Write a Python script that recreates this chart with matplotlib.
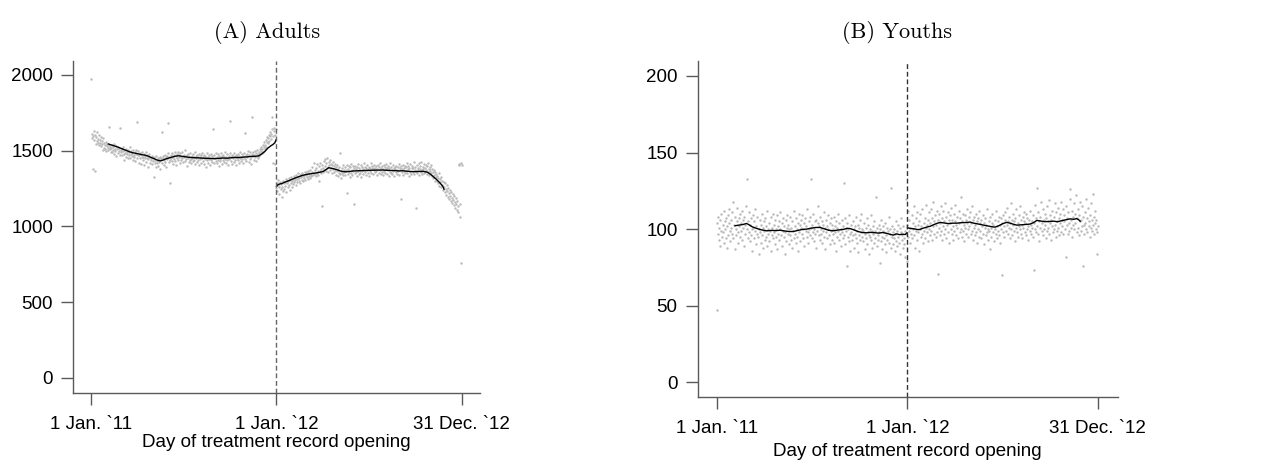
import numpy as np
import matplotlib
matplotlib.use("Agg")
import matplotlib.pyplot as plt

plt.rcParams['font.family'] = ['Liberation Sans', 'DejaVu Sans']

# day 0 = 1 Jan 2011, day 365 = 1 Jan 2012 (cutoff), day 730 = 31 Dec 2012
cutoff_day = 365
tick_days = [0, 365, 730]
tick_labels = ['1 Jan. `11', '1 Jan. `12', '31 Dec. `12']
xlabel = 'Day of treatment record opening'

# ---- (A) Adults: daily counts ----
adults_before = [
    1970, 1585, 1612, 1598, 1380, 1627, 1570, 1368, 1603, 1589, 1541, 1620, 1566, 1578, 1552, 1601, 1534, 1573, 1547, 1590,
    1528, 1562, 1541, 1505, 1583, 1519, 1550, 1537, 1512, 1560, 1498, 1531, 1546, 1520, 1503, 1655, 1539, 1511, 1527, 1494,
    1518, 1536, 1489, 1507, 1525, 1480, 1541, 1512, 1497, 1530, 1463, 1508, 1521, 1486, 1499, 1515, 1473, 1652, 1502, 1490,
    1511, 1468, 1495, 1523, 1480, 1437, 1502, 1485, 1460, 1512, 1476, 1493, 1449, 1505, 1470, 1488, 1521, 1452, 1480, 1497,
    1463, 1485, 1439, 1506, 1472, 1458, 1490, 1431, 1475, 1503, 1687, 1448, 1468, 1495, 1421, 1470, 1486, 1452, 1410, 1479,
    1460, 1492, 1437, 1455, 1476, 1402, 1463, 1449, 1488, 1425, 1451, 1470, 1395, 1443, 1461, 1480, 1418, 1452, 1437, 1466,
    1409, 1448, 1430, 1328, 1457, 1421, 1440, 1389, 1462, 1433, 1415, 1451, 1398, 1442, 1425, 1460, 1381, 1437, 1454, 1626,
    1419, 1448, 1463, 1402, 1437, 1470, 1428, 1455, 1391, 1466, 1445, 1481, 1680, 1423, 1459, 1440, 1289, 1472, 1450, 1433,
    1486, 1458, 1412, 1469, 1447, 1492, 1430, 1463, 1408, 1476, 1452, 1489, 1436, 1471, 1455, 1418, 1482, 1460, 1441, 1493,
    1449, 1427, 1470, 1456, 1501, 1431, 1462, 1445, 1398, 1474, 1453, 1480, 1422, 1459, 1437, 1487, 1446, 1415, 1466, 1451,
    1478, 1430, 1457, 1441, 1493, 1409, 1463, 1448, 1472, 1425, 1455, 1436, 1480, 1402, 1461, 1444, 1469, 1419, 1452, 1487,
    1433, 1458, 1411, 1474, 1446, 1465, 1390, 1452, 1437, 1483, 1421, 1460, 1445, 1471, 1406, 1454, 1439, 1478, 1426, 1462,
    1448, 1643, 1415, 1469, 1452, 1434, 1487, 1420, 1458, 1441, 1476, 1398, 1463, 1447, 1429, 1482, 1455, 1413, 1466, 1440,
    1472, 1427, 1459, 1444, 1490, 1418, 1461, 1435, 1478, 1451, 1403, 1467, 1446, 1483, 1698, 1432, 1457, 1474, 1410, 1463,
    1448, 1485, 1426, 1459, 1441, 1471, 1405, 1462, 1453, 1436, 1480, 1418, 1467, 1449, 1494, 1430, 1458, 1475, 1442, 1465,
    1420, 1461, 1486, 1447, 1619, 1468, 1434, 1479, 1455, 1497, 1428, 1470, 1446, 1488, 1459, 1412, 1476, 1725, 1463, 1491,
    1440, 1472, 1458, 1499, 1431, 1484, 1467, 1505, 1450, 1478, 1493, 1462, 1511, 1476, 1497, 1526, 1482, 1508, 1540, 1493,
    1521, 1556, 1509, 1538, 1572, 1524, 1560, 1591, 1547, 1583, 1606, 1562, 1598, 1620, 1577, 1612, 1725, 1640, 1416, 1595,
    1628, 1652, 1410, 1605, 1640,
]
adults_after = [
    1252, 1288, 1231, 1270, 1305, 1215, 1262, 1290, 1244, 1278, 1196, 1259, 1301, 1236, 1283,
    1249, 1292, 1268, 1310, 1226, 1285, 1303, 1257, 1296, 1318, 1274, 1239, 1307, 1289, 1325, 1262, 1298, 1315, 1281, 1334,
    1293, 1320, 1305, 1271, 1338, 1312, 1290, 1327, 1349, 1302, 1318, 1336, 1283, 1325, 1344, 1309, 1351, 1297, 1330, 1342,
    1318, 1356, 1305, 1339, 1362, 1326, 1347, 1310, 1368, 1335, 1353, 1321, 1374, 1342, 1331, 1360, 1395, 1338, 1352, 1415,
    1346, 1372, 1329, 1388, 1355, 1412, 1340, 1368, 1301, 1397, 1363, 1420, 1377, 1350, 1405, 1137, 1386, 1359, 1431, 1372,
    1398, 1445, 1365, 1417, 1383, 1452, 1391, 1360, 1428, 1402, 1375, 1436, 1388, 1412, 1349, 1405, 1380, 1423, 1357, 1396,
    1371, 1410, 1342, 1389, 1365, 1402, 1330, 1378, 1355, 1395, 1348, 1482, 1367, 1320, 1386, 1351, 1404, 1339, 1373, 1358,
    1392, 1337, 1369, 1405, 1218, 1381, 1346, 1398, 1362, 1327, 1389, 1353, 1410, 1371, 1340, 1396, 1365, 1145, 1382, 1349,
    1401, 1360, 1379, 1334, 1393, 1367, 1412, 1345, 1386, 1372, 1355, 1404, 1328, 1390, 1366, 1381, 1347, 1419, 1374, 1359,
    1395, 1338, 1384, 1369, 1407, 1352, 1376, 1391, 1331, 1388, 1363, 1415, 1350, 1379, 1397, 1344, 1386, 1370, 1408, 1356,
    1383, 1367, 1399, 1336, 1378, 1402, 1355, 1390, 1373, 1421, 1348, 1385, 1361, 1397, 1340, 1380, 1406, 1364, 1392, 1351,
    1376, 1410, 1345, 1388, 1369, 1399, 1332, 1383, 1362, 1416, 1354, 1391, 1375, 1343, 1403, 1366, 1387, 1330, 1380, 1395,
    1358, 1401, 1372, 1347, 1389, 1365, 1412, 1339, 1384, 1370, 1181, 1396, 1356, 1378, 1404, 1341, 1386, 1363, 1398, 1349,
    1391, 1368, 1420, 1352, 1377, 1401, 1335, 1388, 1362, 1414, 1347, 1382, 1397, 1357, 1385, 1426, 1343, 1374, 1393, 1119,
    1366, 1408, 1351, 1387, 1372, 1417, 1338, 1381, 1399, 1359, 1423, 1370, 1345, 1392, 1376, 1411, 1354, 1385, 1362, 1402,
    1373, 1347, 1396, 1360, 1415, 1379, 1338, 1390, 1368, 1352, 1404, 1332, 1381, 1357, 1320, 1373, 1340, 1298, 1362, 1325,
    1346, 1301, 1334, 1283, 1318, 1352, 1269, 1310, 1290, 1325, 1258, 1301, 1276, 1240, 1293, 1262, 1227, 1284, 1248, 1210,
    1271, 1232, 1196, 1255, 1218, 1178, 1240, 1203, 1168, 1226, 1190, 1152, 1213, 1176, 1139, 1198, 1161, 1124, 1186, 1147,
    1110, 1166, 1093, 1135, 1412, 1405, 1150, 1063, 1418, 760, 1408,
]
# moving-average line (day, value)
adults_ma_before_days = [34, 40, 46, 52, 58, 64, 70, 76, 82, 88, 94, 100, 106, 112, 118, 124, 130, 136, 142, 148,
                         154, 160, 166, 172, 178, 184, 190, 196, 204, 212, 220, 228, 236, 244, 252, 260, 268, 276,
                         284, 292, 300, 308, 316, 324, 330, 336, 342, 348, 354, 358, 362, 364]
adults_ma_before = [1544, 1537, 1531, 1524, 1516, 1508, 1500, 1492, 1486, 1482, 1478, 1473, 1470, 1464, 1455, 1447,
                    1438, 1432, 1438, 1446, 1452, 1458, 1463, 1466, 1463, 1460, 1457, 1455, 1453, 1452, 1450, 1449,
                    1448, 1447, 1449, 1451, 1450, 1453, 1455, 1454, 1457, 1459, 1462, 1463, 1465, 1478, 1494, 1516,
                    1532, 1540, 1552, 1571]
adults_ma_after_days = [365, 368, 372, 376, 380, 386, 392, 398, 404, 410, 416, 422, 428, 434, 440, 446, 452, 458,
                        464, 468, 472, 478, 484, 490, 496, 502, 510, 518, 526, 534, 542, 550, 558, 566, 574, 582,
                        590, 598, 606, 614, 622, 630, 638, 646, 654, 662, 668, 674, 680, 686, 690, 693, 695]
adults_ma_after = [1262, 1275, 1280, 1283, 1290, 1297, 1305, 1314, 1322, 1329, 1336, 1341, 1345, 1348, 1351, 1354,
                   1358, 1364, 1378, 1387, 1384, 1380, 1374, 1366, 1362, 1360, 1363, 1366, 1367, 1368, 1369, 1370,
                   1371, 1371, 1372, 1370, 1369, 1368, 1366, 1367, 1364, 1362, 1361, 1362, 1363, 1358, 1345, 1328,
                   1310, 1290, 1275, 1262, 1245]

# ---- (B) Youths: daily counts ----
youths_before = [
    47, 104, 97, 108, 93, 101, 106, 89, 99, 110, 95, 103, 98, 112, 91, 105, 100, 94, 107, 102,
    88, 109, 96, 104, 113, 99, 92, 106, 101, 97, 111, 118, 94, 103, 87, 108, 100, 96, 114, 105,
    98, 91, 107, 102, 110, 95, 104, 99, 112, 93, 106, 101, 89, 108, 97, 103, 115, 133, 100, 94,
    105, 98, 111, 92, 103, 107, 96, 100, 86, 109, 101, 94, 105, 99, 113, 90, 102, 97, 108, 95,
    100, 84, 106, 98, 103, 91, 110, 96, 101, 88, 105, 99, 93, 107, 102, 95, 112, 89, 100, 97,
    104, 92, 99, 108, 86, 101, 96, 110, 94, 103, 98, 90, 106, 100, 95, 109, 87, 102, 97, 105,
    93, 100, 111, 96, 104, 89, 99, 107, 95, 102, 84, 98, 106, 92, 101, 109, 97, 103, 90, 100,
    96, 108, 93, 101, 88, 105, 99, 112, 94, 102, 97, 91, 107, 100, 95, 104, 86, 110, 98, 103,
    92, 101, 106, 97, 109, 94, 100, 104, 89, 107, 99, 102, 95, 113, 98, 91, 105, 100, 96, 108,
    101, 133, 94, 103, 98, 110, 92, 100, 105, 97, 88, 106, 99, 104, 115, 96, 102, 93, 108, 100,
    97, 105, 91, 103, 99, 111, 95, 101, 87, 106, 98, 102, 94, 109, 100, 96, 104, 90, 107, 99,
    103, 93, 100, 97, 108, 91, 102, 98, 105, 86, 101, 95, 110, 99, 93, 104, 97, 100, 89, 106,
    98, 94, 102, 130, 96, 90, 107, 99, 101, 76, 104, 95, 100, 92, 109, 97, 86, 103, 98, 93,
    105, 96, 100, 88, 102, 97, 108, 94, 99, 91, 103, 85, 101, 96, 106, 93, 98, 110, 95, 100,
    92, 99, 104, 87, 97, 101, 94, 107, 90, 98, 103, 96, 84, 100, 95, 109, 93, 99, 88, 102,
    97, 91, 105, 94, 99, 121, 89, 101, 96, 93, 103, 98, 78, 100, 92, 106, 95, 87, 99, 102,
    94, 98, 90, 104, 96, 85, 101, 93, 99, 108, 91, 97, 100, 88, 127, 95, 102, 90, 98, 94,
    100, 86, 97, 105, 92, 99, 89, 103, 95, 91, 101, 84, 98, 107, 93, 96, 88, 102, 94, 90,
    99, 82, 120, 97, 79,
]
youths_after = [
    103, 95, 112, 99, 106, 91, 101, 97, 109, 94, 104, 100, 115, 96, 102, 88, 107, 99, 111, 93,
    103, 98, 86, 105, 100, 110, 95, 102, 97, 113, 91, 104, 99, 107, 94, 101, 116, 98, 103, 92,
    106, 100, 111, 96, 104, 99, 113, 93, 107, 102, 118, 97, 105, 109, 95, 103, 112, 98, 106, 71,
    101, 110, 96, 104, 115, 99, 107, 93, 102, 112, 97, 105, 100, 117, 94, 108, 103, 111, 98, 106,
    91, 104, 109, 100, 114, 97, 106, 102, 93, 110, 99, 105, 116, 96, 103, 108, 101, 94, 112, 104,
    98, 107, 100, 121, 95, 105, 110, 99, 103, 92, 109, 101, 106, 97, 113, 104, 100, 95, 108, 102,
    111, 97, 104, 99, 115, 93, 106, 101, 108, 96, 103, 110, 98, 105, 91, 107, 100, 112, 95, 104,
    99, 106, 94, 102, 109, 97, 104, 90, 101, 107, 96, 103, 113, 98, 100, 93, 105, 99, 87, 108,
    101, 95, 104, 110, 98, 103, 92, 106, 100, 97, 112, 102, 94, 105, 99, 108, 96, 103, 91, 107,
    100, 104, 70, 98, 109, 102, 95, 106, 111, 99, 103, 114, 97, 105, 101, 108, 94, 104, 117, 100,
    106, 96, 103, 110, 99, 105, 92, 107, 101, 113, 98, 104, 95, 109, 102, 100, 115, 97, 106, 103,
    94, 108, 101, 105, 111, 98, 104, 96, 110, 100, 107, 102, 93, 106, 99, 112, 103, 97, 105, 101,
    109, 95, 104, 73, 100, 116, 98, 107, 127, 102, 111, 97, 105, 92, 108, 101, 118, 99, 104, 113,
    96, 106, 100, 110, 103, 94, 107, 115, 99, 105, 101, 119, 97, 104, 109, 93, 106, 102, 112, 98,
    108, 100, 117, 103, 95, 111, 105, 99, 114, 101, 107, 96, 110, 104, 118, 98, 106, 102, 113, 97,
    105, 109, 100, 115, 82, 107, 103, 97, 111, 104, 99, 120, 126, 106, 101, 112, 95, 108, 103, 117,
    100, 110, 104, 122, 98, 107, 113, 101, 96, 109, 105, 118, 99, 106, 102, 115, 76, 108, 103, 97,
    111, 104, 100, 120, 107, 98, 114, 102, 105, 95, 109, 101, 117, 106, 99, 123, 103, 108, 97, 112,
    104, 100, 106, 84, 98, 102,
]
youths_ma_before_days = [35, 42, 50, 57, 62, 68, 77, 86, 96, 105, 113, 121, 130, 139, 147, 156, 164, 172, 180, 190,
                         198, 206, 214, 223, 232, 242, 250, 255, 262, 270, 278, 286, 294, 302, 310, 318, 326, 332,
                         338, 344, 350, 356, 361, 364]
youths_ma_before = [102.2, 102.6, 103.0, 103.7, 102.8, 101.5, 100.4, 99.5, 98.9, 99.2, 99.0, 99.3, 98.8, 98.4,
                    98.5, 99.2, 99.8, 100.0, 100.6, 101.1, 101.1, 100.2, 99.3, 98.9, 99.4, 99.8, 100.5, 100.4,
                    99.6, 98.5, 97.8, 97.6, 97.9, 97.7, 97.4, 97.8, 97.2, 96.6, 96.1, 96.9, 96.4, 96.7, 96.5, 97.5]
youths_ma_after_days = [365, 370, 378, 385, 389, 395, 402, 409, 416, 422, 428, 436, 444, 452, 460, 468, 476, 485,
                        492, 500, 507, 514, 522, 528, 533, 540, 548, 555, 562, 569, 575, 582, 590, 600, 607, 613,
                        620, 628, 638, 646, 652, 657, 664, 670, 677, 684, 689, 693, 696]
youths_ma_after = [100.9, 100.5, 100.2, 99.7, 99.8, 100.6, 101.3, 101.9, 103.0, 103.8, 104.4, 104.0, 103.6, 103.9,
                   103.9, 104.2, 104.3, 104.6, 103.9, 103.4, 102.9, 102.4, 101.9, 101.5, 101.3, 102.2, 103.6, 104.4,
                   103.9, 103.1, 102.6, 102.8, 103.0, 103.3, 104.3, 105.7, 105.3, 104.9, 105.0, 105.2, 104.8, 105.2,
                   105.8, 106.2, 106.7, 106.4, 106.9, 106.2, 105.2]

panels = [
    dict(title='(A) Adults', before=adults_before, after=adults_after,
         ma=[(adults_ma_before_days, adults_ma_before), (adults_ma_after_days, adults_ma_after)],
         yticks=[0, 500, 1000, 1500, 2000], ylim=(-99, 2092), xlim=(-35, 766),
         rect=[0.0581, 0.1609, 0.3223, 0.7088], title_x=0.2116, labelpad=1, cut_color='#666666'),
    dict(title='(B) Youths', before=youths_before, after=youths_after,
         ma=[(youths_ma_before_days, youths_ma_before), (youths_ma_after_days, youths_ma_after)],
         yticks=[0, 50, 100, 150, 200], ylim=(-9.8, 209.8), xlim=(-36.4, 768),
         rect=[0.5529, 0.1511, 0.3328, 0.7186], title_x=0.7105, labelpad=4, cut_color='#333333'),
]

axis_grey = '#5a5a5a'
dot_grey = '#b9b9b9'
fig = plt.figure(figsize=(12.62, 4.68), dpi=100)

for p in panels:
    ax = fig.add_axes(p['rect'])
    days_before = np.arange(len(p['before']))
    days_after = cutoff_day + np.arange(len(p['after']))
    ax.scatter(days_before, p['before'], s=3, color=dot_grey, linewidths=0, zorder=2)
    ax.scatter(days_after, p['after'], s=3, color=dot_grey, linewidths=0, zorder=2)
    for d, v in p['ma']:
        ax.plot(d, v, color='black', lw=1.0, zorder=3)
    ax.axvline(cutoff_day, color=p['cut_color'], lw=1.0, linestyle=(0, (3.5, 2)), zorder=4)

    ax.set_xlim(*p['xlim'])
    ax.set_ylim(*p['ylim'])
    ax.set_xticks(tick_days)
    ax.set_xticklabels(tick_labels)
    ax.set_yticks(p['yticks'])
    ax.tick_params(axis='x', pad=8)
    ax.tick_params(axis='y', pad=6)
    ax.tick_params(direction='out', length=8.5, width=1, color=axis_grey,
                   labelsize=13.5, labelcolor='black')
    for side in ['top', 'right']:
        ax.spines[side].set_visible(False)
    for side in ['left', 'bottom']:
        ax.spines[side].set_color(axis_grey)
        ax.spines[side].set_linewidth(1)
    ax.set_xlabel(xlabel, fontsize=13.5, labelpad=p['labelpad'])

    fig.text(p['title_x'], 1 - 38 / 468, p['title'], family='cmr10', fontsize=16,
             ha='center', va='baseline')

fig.savefig('out.png', dpi=100)
